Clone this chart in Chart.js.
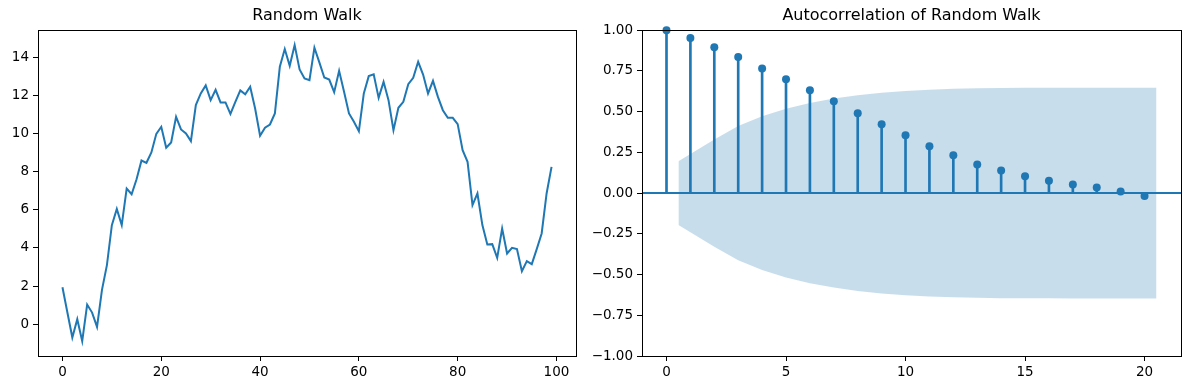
<!DOCTYPE html>
<html>
<head>
<meta charset="utf-8">
<script src="https://cdn.jsdelivr.net/npm/chart.js@4.4.0/dist/chart.umd.min.js"></script>
<style>
  html, body { margin: 0; padding: 0; background: #fff; }
  body { width: 1189px; height: 390px; position: relative; overflow: hidden; }
  .panel { position: absolute; top: 0; height: 390px; }
  #walk-panel { left: 0; width: 590px; }
  #acf-panel { left: 590px; width: 599px; }
</style>
</head>
<body>
<div class="panel" id="walk-panel"><canvas id="walk"></canvas></div>
<div class="panel" id="acf-panel"><canvas id="acf"></canvas></div>
<script>
// random walk, 100 steps
const walkValues = [
  1.94, 0.61, -0.70, 0.26, -0.89, 1.03, 0.61, -0.14, 1.80, 3.10,
  5.20, 6.05, 5.20, 7.12, 6.82, 7.61, 8.59, 8.47, 9.01, 9.99,
  10.36, 9.26, 9.54, 10.88, 10.22, 10.01, 9.61, 11.50, 12.11, 12.53,
  11.76, 12.30, 11.64, 11.64, 11.04, 11.67, 12.27, 12.07, 12.46, 11.32,
  9.89, 10.31, 10.48, 11.06, 13.51, 14.44, 13.56, 14.65, 13.37, 12.90,
  12.81, 14.51, 13.74, 12.95, 12.84, 12.18, 13.30, 12.20, 11.06, 10.62,
  10.13, 12.11, 13.02, 13.11, 11.88, 12.72, 11.76, 10.18, 11.36, 11.67,
  12.60, 12.93, 13.77, 13.10, 12.11, 12.77, 11.93, 11.23, 10.83, 10.83,
  10.50, 9.13, 8.52, 6.25, 6.86, 5.20, 4.18, 4.20, 3.48, 5.02,
  3.71, 4.01, 3.94, 2.78, 3.31, 3.15, 3.94, 4.76, 6.86, 8.26
];
const walkXTicks = [0, 20, 40, 60, 80, 100];
const walkYTicks = [0, 2, 4, 6, 8, 10, 12, 14];
const walkXRange = [-4.95, 103.95];
const walkYRange = [-1.67, 15.43];

// autocorrelation, lags 0..20
const acfLags = [0, 1, 2, 3, 4, 5, 6, 7, 8, 9, 10, 11, 12, 13, 14, 15, 16, 17, 18, 19, 20];
const acfValues = [
  1.00, 0.952, 0.896, 0.835, 0.765, 0.699, 0.632, 0.564, 0.490, 0.423,
  0.355, 0.287, 0.232, 0.176, 0.139, 0.103, 0.076, 0.053, 0.035, 0.010, -0.018
];
// confidence band edges (shaded area)
const bandX = [0.5, 2, 3, 4, 5, 6, 7, 8, 9, 10, 11, 12, 13, 14, 15, 16, 17, 18, 19, 20.5];
const bandUpper = [
  0.196, 0.329, 0.412, 0.472, 0.518, 0.553, 0.580, 0.601, 0.616, 0.627,
  0.635, 0.640, 0.643, 0.645, 0.646, 0.646, 0.647, 0.647, 0.647, 0.647
];
const bandLower = [
  -0.196, -0.329, -0.412, -0.472, -0.518, -0.553, -0.580, -0.601, -0.616, -0.627,
  -0.635, -0.640, -0.643, -0.645, -0.646, -0.646, -0.647, -0.647, -0.647, -0.647
];
const acfXTicks = [0, 5, 10, 15, 20];
const acfYTicks = [-1, -0.75, -0.5, -0.25, 0, 0.25, 0.5, 0.75, 1];
const acfYLabels = ["\u22121.00", "\u22120.75", "\u22120.50", "\u22120.25", "0.00", "0.25", "0.50", "0.75", "1.00"];
const acfXRange = [-1.025, 21.525];
const acfYRange = [-1, 1];

const BLUE = "#1f77b4";
const BAND = "rgba(31,119,180,0.25)";
const FONT = "'DejaVu Sans', sans-serif";

Chart.defaults.font.family = FONT;
Chart.defaults.color = "#000";
Chart.defaults.animation = false;

// black box around the plot area, like matplotlib spines
const framePlugin = {
  id: "frame",
  afterDatasetsDraw(chart) {
    const a = chart.chartArea;
    const ctx = chart.ctx;
    ctx.save();
    ctx.strokeStyle = "#000";
    ctx.lineWidth = 1;
    ctx.strokeRect(Math.round(a.left) + 0.5, Math.round(a.top) + 0.5,
      Math.round(a.right - a.left), Math.round(a.bottom - a.top));
    ctx.restore();
  },
};

// horizontal line at y = 0 across the whole axis, drawn just before the stems
const zeroLinePlugin = {
  id: "zeroLine",
  beforeDatasetDraw(chart, args) {
    if (args.index !== 2) return;
    const a = chart.chartArea;
    const y = chart.scales.y.getPixelForValue(0);
    const ctx = chart.ctx;
    ctx.save();
    ctx.strokeStyle = BLUE;
    ctx.lineWidth = 2;
    ctx.beginPath();
    ctx.moveTo(a.left, y);
    ctx.lineTo(a.right, y);
    ctx.stroke();
    ctx.restore();
  },
};

function tickGrid() {
  return { display: true, offset: false, drawOnChartArea: false, drawTicks: true, tickLength: 5, color: "#000", lineWidth: 1 };
}

function fixedTicks(list) {
  return function (scale) {
    scale.ticks = list.map(function (v) { return { value: v }; });
  };
}

function titleOpts(text) {
  return {
    display: true,
    text: text,
    fullSize: false,
    color: "#000",
    font: { size: 16, weight: "normal", family: FONT },
    padding: { top: 6, bottom: 5 },
  };
}

new Chart(document.getElementById("walk"), {
  type: "line",
  data: {
    datasets: [{
      data: walkValues.map(function (v, i) { return { x: i, y: v }; }),
      borderColor: BLUE,
      borderWidth: 2,
      pointRadius: 0,
      tension: 0,
      fill: false,
    }],
  },
  options: {
    responsive: true,
    maintainAspectRatio: false,
    layout: { padding: { left: 0, right: 14, top: 0, bottom: 0 } },
    plugins: {
      legend: { display: false },
      tooltip: { enabled: false },
      title: titleOpts("Random Walk"),
    },
    scales: {
      x: {
        type: "linear",
        min: walkXRange[0],
        max: walkXRange[1],
        afterBuildTicks: fixedTicks(walkXTicks),
        afterFit: function (s) { s.height = 34; },
        grid: tickGrid(),
        border: { display: false },
        ticks: { padding: 3, font: { size: 13.5 }, color: "#000", maxRotation: 0,
          callback: function (v) { return String(v); } },
      },
      y: {
        type: "linear",
        min: walkYRange[0],
        max: walkYRange[1],
        afterBuildTicks: fixedTicks(walkYTicks),
        afterFit: function (s) { s.width = 38; },
        grid: tickGrid(),
        border: { display: false },
        ticks: { padding: 4, font: { size: 13.5 }, color: "#000",
          callback: function (v) { return String(v); } },
      },
    },
  },
  plugins: [framePlugin],
});

new Chart(document.getElementById("acf"), {
  type: "scatter",
  data: {
    datasets: [
      {
        type: "line",
        data: bandX.map(function (x, i) { return { x: x, y: bandUpper[i] }; }),
        borderWidth: 0,
        borderColor: "rgba(0,0,0,0)",
        pointRadius: 0,
        backgroundColor: BAND,
        fill: "+1",
        tension: 0,
        order: 4,
      },
      {
        type: "line",
        data: bandX.map(function (x, i) { return { x: x, y: bandLower[i] }; }),
        borderWidth: 0,
        borderColor: "rgba(0,0,0,0)",
        pointRadius: 0,
        fill: false,
        tension: 0,
        order: 3,
      },
      {
        type: "bar",
        data: acfLags.map(function (l, i) { return { x: l, y: acfValues[i] }; }),
        backgroundColor: BLUE,
        borderWidth: 0,
        barThickness: 2,
        order: 2,
      },
      {
        type: "scatter",
        data: acfLags.map(function (l, i) { return { x: l, y: acfValues[i] }; }),
        backgroundColor: BLUE,
        borderWidth: 0,
        pointRadius: 4,
        clip: false,
        order: 1,
      },
    ],
  },
  options: {
    responsive: true,
    maintainAspectRatio: false,
    layout: { padding: { left: 0, right: 8, top: 0, bottom: 0 } },
    plugins: {
      legend: { display: false },
      tooltip: { enabled: false },
      title: titleOpts("Autocorrelation of Random Walk"),
    },
    scales: {
      x: {
        type: "linear",
        offset: false,
        min: acfXRange[0],
        max: acfXRange[1],
        afterBuildTicks: fixedTicks(acfXTicks),
        afterFit: function (s) { s.height = 34; },
        grid: tickGrid(),
        border: { display: false },
        ticks: { padding: 3, font: { size: 13.5 }, color: "#000", maxRotation: 0,
          callback: function (v) { return String(v); } },
      },
      y: {
        type: "linear",
        min: acfYRange[0],
        max: acfYRange[1],
        afterBuildTicks: fixedTicks(acfYTicks),
        afterFit: function (s) { s.width = 52; },
        grid: tickGrid(),
        border: { display: false },
        ticks: { padding: 4, font: { size: 13.5 }, color: "#000",
          callback: function (v) { return acfYLabels[acfYTicks.indexOf(v)]; } },
      },
    },
  },
  plugins: [framePlugin, zeroLinePlugin],
});
</script>
</body>
</html>
